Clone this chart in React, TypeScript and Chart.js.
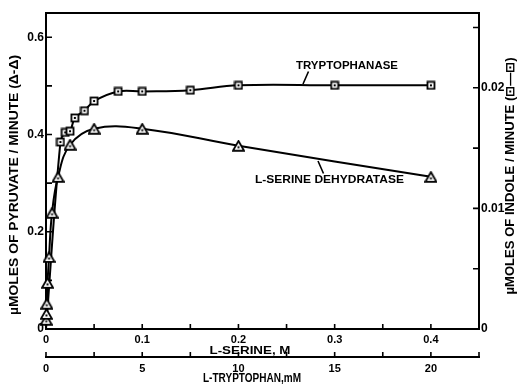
import React, { useEffect, useRef } from 'react';
import { Chart, registerables } from 'chart.js';

Chart.register(...registerables);

// L-serine dehydratase: L-serine (M) vs µmoles pyruvate / minute
const serineM = [0.0002, 0.0004, 0.0008, 0.0016, 0.003125, 0.00625, 0.0125, 0.025, 0.05, 0.1, 0.2, 0.4];
const pyruvateRate = [0.019, 0.031, 0.052, 0.095, 0.148, 0.239, 0.313, 0.379, 0.412, 0.412, 0.377, 0.313];

// Tryptophanase: L-tryptophan (mM) vs µmoles indole / minute
const tryptophanMM = [0, 0.75, 1.0, 1.25, 1.5, 2.0, 2.5, 3.75, 5, 7.5, 10, 15, 20];
const indoleRate = [0, 0.0155, 0.0163, 0.0164, 0.0175, 0.0181, 0.0189, 0.0197, 0.0197, 0.0198, 0.0202, 0.0202, 0.0202];

// Axis ticks and labels
const serineTicks = [0, 0.05, 0.1, 0.15, 0.2, 0.25, 0.3, 0.35, 0.4];
const serineLabels = ['0', '', '0.1', '', '0.2', '', '0.3', '', '0.4'];
const tryptophanTicks = [0, 2.5, 5, 7.5, 10, 12.5, 15, 17.5, 20, 22.5];
const tryptophanLabels = ['0', '', '5', '', '10', '', '15', '', '20', ''];
const pyruvateTicks = [0, 0.1, 0.2, 0.3, 0.4, 0.5, 0.6];
const pyruvateLabels = ['0', '', '0.2', '', '0.4', '', '0.6'];
const indoleTicks = [0, 0.005, 0.01, 0.015, 0.02, 0.025];
const indoleLabels = ['0', '', '0.01', '', '0.02', ''];

const FONT = '"Liberation Sans", Arial, sans-serif';

function drawFitted(ctx: CanvasRenderingContext2D, text: string, cx: number, cy: number, width: number, size: number, rot = 0) {
  ctx.save();
  ctx.font = `bold ${size}px ${FONT}`;
  const w = ctx.measureText(text).width;
  ctx.translate(cx, cy);
  ctx.rotate(rot);
  ctx.scale(width / w, 1);
  ctx.textAlign = 'center';
  ctx.textBaseline = 'middle';
  ctx.fillStyle = '#000';
  ctx.fillText(text, 0, 0);
  ctx.restore();
}

function makeSquare() {
  const c = document.createElement('canvas');
  c.width = 10; c.height = 10;
  const g = c.getContext('2d')!;
  g.fillStyle = '#fff';
  g.fillRect(1, 1, 8, 8);
  g.strokeStyle = '#000';
  g.lineWidth = 1.8;
  g.strokeRect(1.5, 1.5, 7, 7);
  g.fillStyle = '#000';
  g.fillRect(4, 4, 2, 2);
  return c;
}

function makeTriangle() {
  const c = document.createElement('canvas');
  c.width = 13; c.height = 12;
  const g = c.getContext('2d')!;
  g.beginPath();
  g.moveTo(6.5, 1.2);
  g.lineTo(12, 10.8);
  g.lineTo(1, 10.8);
  g.closePath();
  g.fillStyle = '#fff';
  g.fill();
  g.strokeStyle = '#000';
  g.lineWidth = 1.8;
  g.lineJoin = 'miter';
  g.stroke();
  g.fillStyle = '#000';
  g.fillRect(5.5, 6.5, 2, 2);
  return c;
}

const decorPlugin = {
  id: 'decor',
  beforeDatasetsDraw(chart: any) {
    const { ctx, chartArea: a, scales } = chart;
    ctx.save();
    ctx.strokeStyle = '#000';
    ctx.lineWidth = 2;
    ctx.strokeRect(a.left, a.top, a.right - a.left, a.bottom - a.top);

    ctx.lineWidth = 1.6;
    ctx.beginPath();
    scales.x.ticks.forEach((t: any) => {
      const px = scales.x.getPixelForValue(t.value);
      ctx.moveTo(px, a.bottom);
      ctx.lineTo(px, a.bottom - 5);
    });
    scales.y.ticks.forEach((t: any) => {
      const py = scales.y.getPixelForValue(t.value);
      ctx.moveTo(a.left, py);
      ctx.lineTo(a.left + 6, py);
    });
    scales.y2.ticks.forEach((t: any) => {
      const py = scales.y2.getPixelForValue(t.value);
      ctx.moveTo(a.right, py);
      ctx.lineTo(a.right - 6, py);
    });
    const yy = scales.x2.top;
    scales.x2.ticks.forEach((t: any) => {
      const px = scales.x2.getPixelForValue(t.value);
      ctx.moveTo(px, yy);
      ctx.lineTo(px, yy - 5);
    });
    ctx.stroke();

    ctx.lineWidth = 2;
    ctx.beginPath();
    ctx.moveTo(scales.x2.getPixelForValue(0) - 1, yy);
    ctx.lineTo(scales.x2.getPixelForValue(scales.x2.max) + 1, yy);
    ctx.stroke();
    ctx.restore();
  },
  afterDraw(chart: any) {
    const { ctx } = chart;
    // axis titles
    drawFitted(ctx, 'µMOLES OF PYRUVATE / MINUTE (Δ-Δ)', 15, 185, 260, 12, -Math.PI / 2);
    drawFitted(ctx, 'µMOLES OF INDOLE / MINUTE (⊡—⊡)', 511, 176, 237, 12, -Math.PI / 2);
    drawFitted(ctx, 'L-SERINE, M', 250, 351, 81, 11);
    drawFitted(ctx, 'L-TRYPTOPHAN,mM', 252, 379, 98, 12);
    // curve labels
    drawFitted(ctx, 'TRYPTOPHANASE', 347, 66, 102, 11);
    drawFitted(ctx, 'L-SERINE DEHYDRATASE', 329.5, 180, 149, 11);
    ctx.save();
    ctx.strokeStyle = '#000';
    ctx.lineWidth = 1.6;
    ctx.beginPath();
    ctx.moveTo(308.5, 71.5);
    ctx.lineTo(303, 84);
    ctx.moveTo(318, 161);
    ctx.lineTo(323.5, 173.5);
    ctx.stroke();
    ctx.restore();
  },
};

export default function App() {
  const ref = useRef<HTMLCanvasElement>(null);
  useEffect(() => {
    const sq = makeSquare();
    const tri = makeTriangle();
    const tickFont = { family: FONT, size: 12, weight: 'bold' as const };
    const chart = new Chart(ref.current!, {
      type: 'scatter',
      data: {
        datasets: [
          {
            label: 'L-serine dehydratase',
            data: serineM.map((x, i) => ({ x, y: pyruvateRate[i] })),
            xAxisID: 'x',
            yAxisID: 'y',
            showLine: true,
            borderColor: '#000',
            borderWidth: 2,
            tension: 0.4,
            pointStyle: tri as any,
            pointRadius: 5,
            clip: false as any,
          },
          {
            label: 'Tryptophanase',
            data: tryptophanMM.map((x, i) => ({ x, y: indoleRate[i] })),
            xAxisID: 'x2',
            yAxisID: 'y2',
            showLine: true,
            borderColor: '#000',
            borderWidth: 2,
            tension: 0.4,
            pointStyle: sq as any,
            pointRadius: (c: any) => (indoleRate[c.dataIndex] === 0 ? 0 : 5),
            clip: false as any,
          },
        ],
      },
      options: {
        responsive: false,
        animation: false,
        events: [],
        layout: { padding: { top: 13, left: 0, right: 0, bottom: 0 } },
        plugins: { legend: { display: false }, tooltip: { enabled: false } },
        scales: {
          x: {
            type: 'linear', position: 'bottom', weight: 0, min: 0, max: 0.45,
            afterFit: (s: any) => { s.height = 28; },
            afterBuildTicks: (s: any) => { s.ticks = serineTicks.map((v) => ({ value: v })); },
            grid: { display: false, drawTicks: false },
            border: { display: false },
            ticks: { padding: 4, maxRotation: 0, autoSkip: false, color: '#000', font: { ...tickFont, size: 11 }, callback: (_v: any, i: number) => serineLabels[i] },
          },
          x2: {
            type: 'linear', position: 'bottom', weight: 1, min: 0, max: 22.5,
            afterFit: (s: any) => { s.height = 27; },
            afterBuildTicks: (s: any) => { s.ticks = tryptophanTicks.map((v) => ({ value: v })); },
            grid: { display: false, drawTicks: false },
            border: { display: false },
            ticks: { padding: 5, maxRotation: 0, autoSkip: false, color: '#000', font: { ...tickFont, size: 11 }, callback: (_v: any, i: number) => tryptophanLabels[i] },
          },
          y: {
            type: 'linear', position: 'left', min: 0, max: 0.65,
            afterFit: (s: any) => { s.width = 46; },
            afterBuildTicks: (s: any) => { s.ticks = pyruvateTicks.map((v) => ({ value: v })); },
            grid: { display: false, drawTicks: false },
            border: { display: false },
            ticks: { padding: 2, autoSkip: false, color: '#000', font: tickFont, callback: (_v: any, i: number) => pyruvateLabels[i] },
          },
          y2: {
            type: 'linear', position: 'right', min: 0, max: 0.0262,
            afterFit: (s: any) => { s.width = 43; },
            afterBuildTicks: (s: any) => { s.ticks = indoleTicks.map((v) => ({ value: v })); },
            grid: { display: false, drawTicks: false },
            border: { display: false },
            ticks: { padding: 2, autoSkip: false, color: '#000', font: tickFont, callback: (_v: any, i: number) => indoleLabels[i] },
          },
        },
      },
      plugins: [decorPlugin],
    } as any);
    return () => chart.destroy();
  }, []);
  return (
    <div style={{ position: 'fixed', left: 0, top: 0, width: 522, height: 384, background: '#fff' }}>
      <canvas ref={ref} width={522} height={384} />
    </div>
  );
}
